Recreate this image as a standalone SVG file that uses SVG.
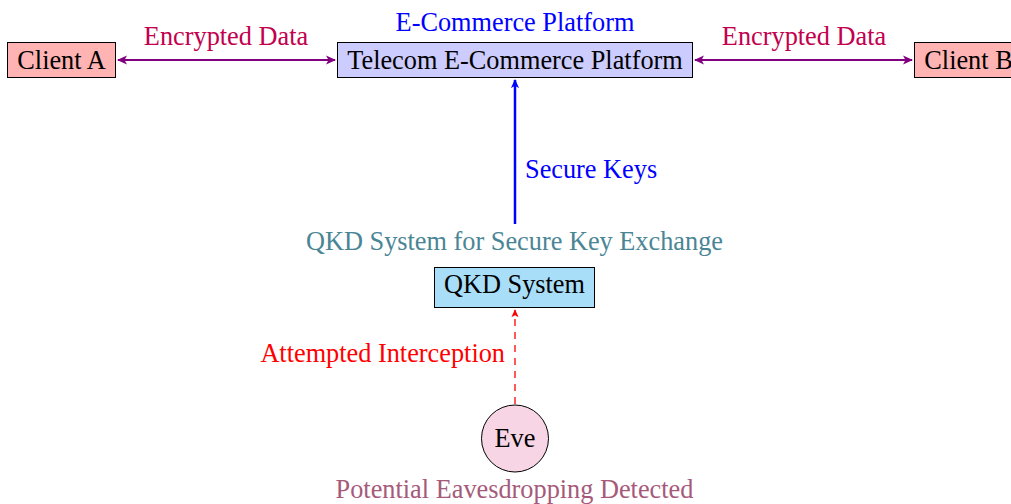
<svg xmlns="http://www.w3.org/2000/svg" width="1011" height="504" viewBox="0 0 1011 504">
<style>
text{font-family:"Liberation Serif","Times New Roman",serif;font-size:26.3px}
.box{stroke:#000;stroke-width:1}
.c{text-anchor:middle}
.pur{stroke:#800080;stroke-width:2.2;fill:none}
</style>
<defs>
<marker id="mp" viewBox="0 0 10 10" refX="9" refY="5" markerWidth="10" markerHeight="10" orient="auto-start-reverse" markerUnits="userSpaceOnUse"><path d="M0,0.5 L10,5 L0,9.5 L2.5,5 Z" fill="#800080"/></marker>
<marker id="mb" viewBox="0 0 10 10" refX="9" refY="5" markerWidth="9" markerHeight="9" orient="auto" markerUnits="userSpaceOnUse"><path d="M0,0.5 L10,5 L0,9.5 L2.5,5 Z" fill="#0000ff"/></marker>
<marker id="mr" viewBox="0 0 10 10" refX="9" refY="5" markerWidth="8" markerHeight="8" orient="auto" markerUnits="userSpaceOnUse"><path d="M0,0.5 L10,5 L0,9.5 L2.5,5 Z" fill="#ff0000"/></marker>
</defs>
<rect width="1011" height="504" fill="#fff"/>
<g id="connectors">
<line class="pur" x1="118" y1="60" x2="335" y2="60" marker-start="url(#mp)" marker-end="url(#mp)"/>
<line class="pur" x1="695" y1="60" x2="912" y2="60" marker-start="url(#mp)" marker-end="url(#mp)"/>
<line x1="515" y1="224" x2="515" y2="80" stroke="#0000ff" stroke-width="2.5" marker-end="url(#mb)"/>
<line x1="515" y1="404" x2="515" y2="310" stroke="#ff0000" stroke-width="1.3" stroke-dasharray="7,6" marker-end="url(#mr)"/>
<text x="226" y="45" class="c" fill="#c2004e">Encrypted Data</text>
<text x="804" y="45" class="c" fill="#c2004e">Encrypted Data</text>
<text x="525" y="178" fill="#0000ff">Secure Keys</text>
<text x="505" y="362" text-anchor="end" fill="#ff0000">Attempted Interception</text>
</g>
<g id="clientA">
<rect class="box" x="7.5" y="42.5" width="108" height="35" fill="#ffb3b3"/>
<text x="61.5" y="69" class="c">Client A</text>
</g>
<g id="platform">
<text x="515" y="31" class="c" fill="#0000ff">E-Commerce Platform</text>
<rect class="box" x="337.5" y="42.5" width="355" height="35" fill="#ccccff"/>
<text x="515" y="69" class="c">Telecom E-Commerce Platform</text>
</g>
<g id="clientB">
<rect class="box" x="914.5" y="42.5" width="108" height="35" fill="#ffb3b3"/>
<text x="968.5" y="69" class="c">Client B</text>
</g>
<g id="qkd">
<text x="514.5" y="250" class="c" fill="#4a8595">QKD System for Secure Key Exchange</text>
<rect class="box" x="434.5" y="267.5" width="160" height="40" fill="#a9def9"/>
<text x="514.5" y="293" class="c">QKD System</text>
</g>
<g id="eve">
<circle cx="515" cy="438.5" r="33.5" fill="#f8d5e5" stroke="#000" stroke-width="1"/>
<text x="515" y="447" class="c">Eve</text>
<text x="514.5" y="498" class="c" fill="#a65a7a">Potential Eavesdropping Detected</text>
</g>
</svg>
